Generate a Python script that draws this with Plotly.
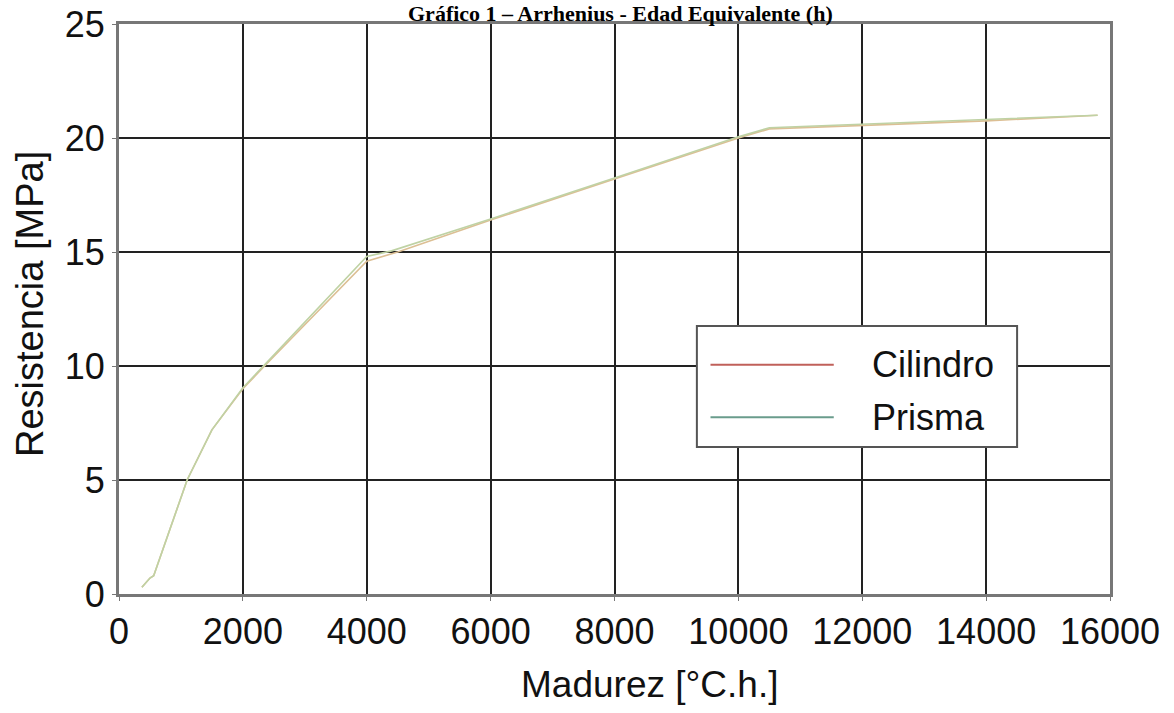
import plotly.graph_objects as go

# Data
madurez_cil = [370, 500, 560, 1100, 1500, 2000, 2350, 4000, 4500, 6000, 8000, 10000, 10500, 12000, 14000, 15800]
res_cil = [0.3, 0.7, 0.8, 5.0, 7.2, 9.0, 10.0, 14.6, 15.0, 16.4, 18.2, 20.0, 20.4, 20.55, 20.75, 21.0]
madurez_pri = [370, 500, 560, 1100, 1500, 2000, 2350, 4000, 4400, 6000, 8000, 10000, 10500, 12000, 14000, 15800]
res_pri = [0.3, 0.7, 0.8, 5.0, 7.2, 9.05, 10.05, 14.8, 15.05, 16.45, 18.25, 20.05, 20.45, 20.6, 20.8, 21.0]
x_ticks = [0, 2000, 4000, 6000, 8000, 10000, 12000, 14000, 16000]
y_ticks = [0, 5, 10, 15, 20, 25]
series_names = ["Cilindro", "Prisma"]

FONT = "Liberation Sans, Arial, sans-serif"

fig = go.Figure()
fig.add_trace(go.Scatter(x=madurez_cil, y=res_cil, mode="lines", name=series_names[0],
                         line=dict(color="#dcbf94", width=1.6), showlegend=False))
fig.add_trace(go.Scatter(x=madurez_pri, y=res_pri, mode="lines", name=series_names[1],
                         line=dict(color="#bfd2a4", width=1.6), showlegend=False))

# Manual legend (box, samples, labels) in data coordinates
fig.add_shape(type="rect", xref="x", yref="y", x0=9330, x1=14500, y0=6.45, y1=11.75,
              line=dict(color="#555555", width=2), fillcolor="white", layer="above")
fig.add_shape(type="line", xref="x", yref="y", x0=9550, x1=11540, y0=10.05, y1=10.05,
              line=dict(color="#c0605a", width=2), layer="above")
fig.add_shape(type="line", xref="x", yref="y", x0=9550, x1=11540, y0=7.75, y1=7.75,
              line=dict(color="#6a9c8c", width=2), layer="above")
fig.add_annotation(x=12130, y=10.05, xref="x", yref="y", text=series_names[0], showarrow=False,
                   xanchor="left", yanchor="middle", font=dict(family=FONT, size=36, color="#111"))
fig.add_annotation(x=12130, y=7.75, xref="x", yref="y", text=series_names[1], showarrow=False,
                   xanchor="left", yanchor="middle", font=dict(family=FONT, size=36, color="#111"))

# Axis titles as annotations for exact placement
fig.add_annotation(x=(649 - 119) / 991, y=(594 - 684) / 570, xref="paper", yref="paper",
                   text="Madurez [°C.h.]", showarrow=False, xanchor="center", yanchor="middle",
                   font=dict(family=FONT, size=37, color="#111"))
fig.add_annotation(x=(30 - 119) / 991, y=(594 - 304) / 570, xref="paper", yref="paper",
                   text="Resistencia [MPa]", showarrow=False, xanchor="center", yanchor="middle",
                   textangle=-90, font=dict(family=FONT, size=38, color="#111"))

# Chart title as an annotation anchored to the top edge
fig.add_annotation(x=(620 - 119) / 991, y=(594 - 0) / 570, xref="paper", yref="paper",
                   text="<b>Gráfico 1 – Arrhenius - Edad Equivalente (h)</b>", showarrow=False,
                   xanchor="center", yanchor="top", borderpad=0,
                   font=dict(family="Liberation Serif, Times New Roman, serif", size=22, color="#000"))

fig.update_layout(
    width=1174, height=713,
    margin=dict(l=119, r=64, t=24, b=119),
    paper_bgcolor="white", plot_bgcolor="white",
    xaxis=dict(range=[0, 16000], tickvals=x_ticks, ticktext=[str(v) for v in x_ticks],
               showgrid=True, gridcolor="#222222", gridwidth=2,
               showline=True, linecolor="#777777", linewidth=3, mirror=True,
               ticks="outside", ticklen=4, tickcolor="#777777", automargin=False,
               tickfont=dict(family=FONT, size=36, color="#111"), zeroline=False),
    yaxis=dict(range=[0, 25], tickvals=y_ticks, ticktext=[str(v) for v in y_ticks],
               showgrid=True, gridcolor="#222222", gridwidth=2,
               showline=True, linecolor="#777777", linewidth=3, mirror=True,
               ticks="outside", ticklen=4, tickcolor="#777777", automargin=False,
               tickfont=dict(family=FONT, size=36, color="#111"), zeroline=False),
)

fig.write_html("out.html", config={"displayModeBar": False},
               post_script="document.body.style.margin='0';")
